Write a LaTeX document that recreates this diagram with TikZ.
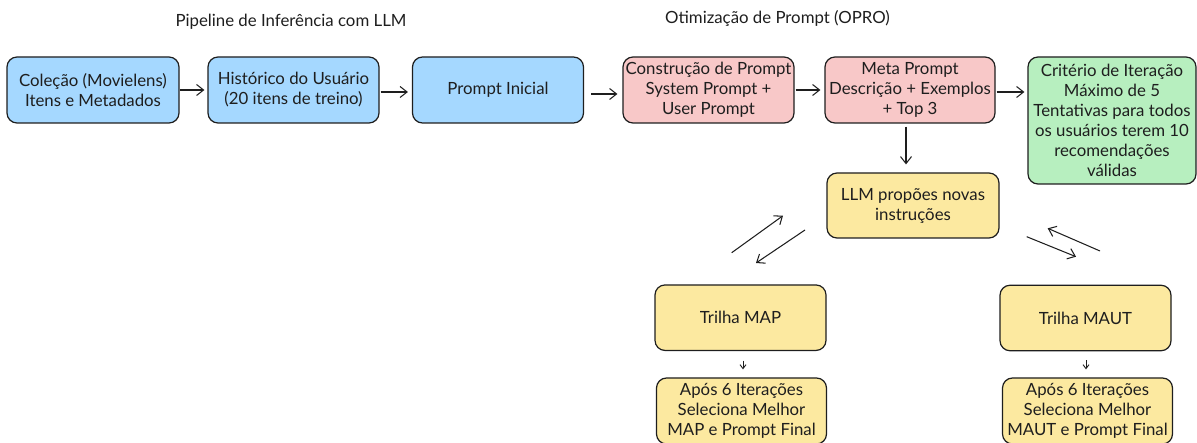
\documentclass[tikz,border=0pt]{standalone}
\usepackage{fontspec}
\setmainfont{Lato}
\usetikzlibrary{arrows.meta}
\definecolor{exblue}{HTML}{A5D8FF}
\definecolor{exred}{HTML}{F8C8C8}
\definecolor{exgreen}{HTML}{B7EFBF}
\definecolor{exyellow}{HTML}{FCE9A0}
\definecolor{exstroke}{HTML}{1E1E1E}
\tikzset{
  box/.style={draw=exstroke, line width=1.2pt, rounded corners=10pt, align=center,
    inner sep=0pt, font=\fontsize{16.8}{20}\selectfont, text=exstroke},
  ttl/.style={font=\fontsize{16.8}{20}\selectfont, text=exstroke},
  arr/.style={draw=exstroke, line width=1.05pt, -{Straight Barb[length=7pt,width=11pt]}},
  tinyarr/.style={draw=exstroke, line width=0.9pt, -{Straight Barb[length=4pt,width=6pt]}}
}
\begin{document}
\begin{tikzpicture}[x=1pt,y=-1pt]
\useasboundingbox (0,0) rectangle (1197,443);
% titles
\node[ttl] (t1) at (291,22) {Pipeline de Inferência com LLM};
\node[ttl] (t2) at (777.5,18) {Otimização de Prompt (OPRO)};
% row 1
\node[box, fill=exblue, minimum width=172pt, minimum height=66pt] (b1) at (93,90) {Coleção (Movielens)\\Itens e Metadados};
\node[box, fill=exblue, minimum width=171pt, minimum height=66pt] (b2) at (293.5,90) {Histórico do Usuário\\(20 itens de treino)};
\node[box, fill=exblue, minimum width=171pt, minimum height=66pt] (b3) at (498,90) {Prompt Inicial};
\node[box, fill=exred, minimum width=171pt, minimum height=66pt] (b4) at (708.5,90) {Construção de Prompt\\System Prompt +\\User Prompt};
\node[box, fill=exred, minimum width=170pt, minimum height=66pt] (b5) at (910,90) {Meta Prompt\\Descrição + Exemplos\\+ Top 3};
\node[box, fill=exgreen, minimum width=168pt, minimum height=127pt] (b6) at (1112,120.5) {Critério de Iteração\\Máximo de 5\\Tentativas para todos\\os usuários terem 10\\recomendações\\válidas};
% middle
\node[box, fill=exyellow, minimum width=172pt, minimum height=65pt] (b7) at (913,205.5) {LLM propões novas\\instruções};
\node[box, fill=exyellow, minimum width=171pt, minimum height=65.5pt] (b8) at (740.5,317.7) {Trilha MAP};
\node[box, fill=exyellow, minimum width=171pt, minimum height=65.5pt] (b9) at (1085.5,318) {Trilha MAUT};
\node[box, fill=exyellow, minimum width=170pt, minimum height=66pt] (b10) at (741.5,411) {Após 6 Iterações\\Seleciona Melhor\\MAP e Prompt Final};
\node[box, fill=exyellow, minimum width=170pt, minimum height=66pt] (b11) at (1087.5,411) {Após 6 Iterações\\Seleciona Melhor\\MAUT e Prompt Final};
% connectors row 1
\draw[arr, shorten >=3pt] (b1.east) -- (b2.west);
\draw[arr, shorten <=1pt, shorten >=4pt] ([yshift=-2pt]b2.east) -- ([yshift=-2pt]b3.west);
\draw[arr, shorten <=7pt, shorten >=5pt] ([yshift=-4pt]b3.east) -- ([yshift=-4pt]b4.west);
\draw[arr, shorten <=1pt, shorten >=4pt] (b4.east) -- (b5.west);
\draw[arr, shorten <=1pt, shorten >=3pt] ([yshift=-2pt]b5.east) -- ([yshift=-2pt]b5.east -| b6.west);
\draw[arr, shorten <=3pt, shorten >=8pt] ([xshift=-4pt]b5.south) -- ([xshift=-4pt]b5.south |- b7.north);
% diagonal connectors
\coordinate (l1s) at (731.7,252.7);
\coordinate (l1e) at (783,215.7);
\coordinate (l2s) at (805,230);
\coordinate (l2e) at (756,263);
\coordinate (r1s) at (1026.7,236.7);
\coordinate (r1e) at (1076,256.7);
\coordinate (r2s) at (1100,251);
\coordinate (r2e) at (1047.7,228.3);
\draw[arr] (l1s) -- (l1e);
\draw[arr] (l2s) -- (l2e);
\draw[arr] (r1s) -- (r1e);
\draw[arr] (r2s) -- (r2e);
% small arrows
\draw[tinyarr, shorten <=9.5pt, shorten >=8pt] ([xshift=2.5pt]b8.south) -- ([xshift=2.5pt]b8.south |- b10.north);
\draw[tinyarr, shorten <=9pt, shorten >=8pt] ([xshift=0.5pt]b9.south) -- ([xshift=0.5pt]b9.south |- b11.north);
\end{tikzpicture}
\end{document}
